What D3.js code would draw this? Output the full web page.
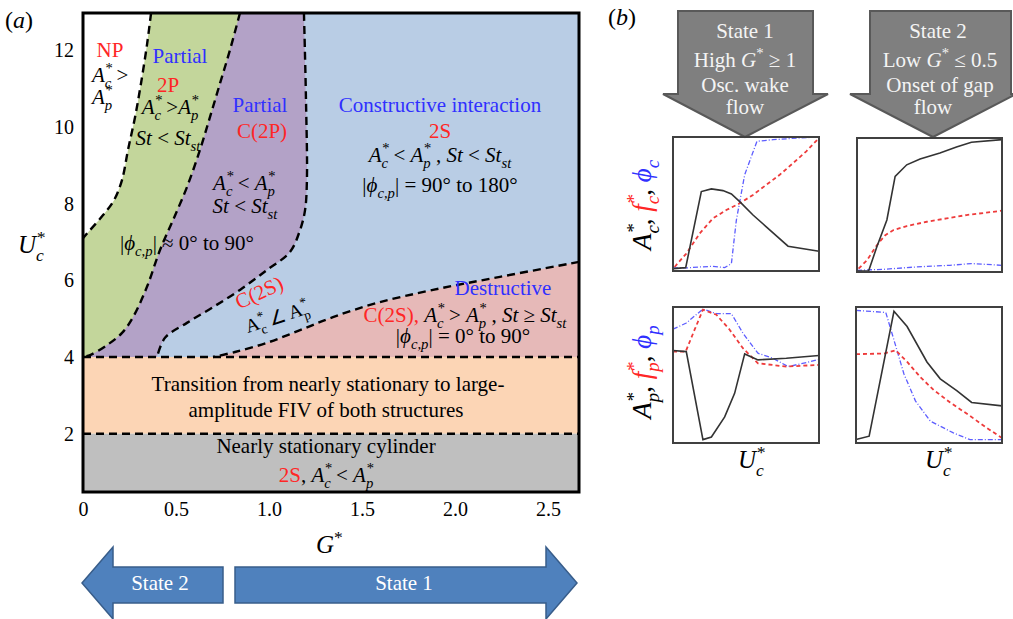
<!DOCTYPE html>
<html>
<head>
<meta charset="utf-8">
<script src="https://cdn.jsdelivr.net/npm/d3@7"></script>
<style>
  body { margin: 0; background: #fff; }
  svg { display: block; }
</style>
</head>
<body>
<div id="chart"></div>
<script>
// ---- data (panel a): regime boundaries as [G*, U*c] ----
var gTicks = [0, 0.5, 1.0, 1.5, 2.0, 2.5];
var uTicks = [2, 4, 6, 8, 10, 12];
var gDomain = [0, 2.667];
var uDomain = [0.48, 12.97];

var bndNP = [[0.366,12.97],[0.344,12.14],[0.312,11.14],[0.280,10.26],[0.242,9.40],[0.210,8.62],[0.167,8.09],[0.108,7.70],[0.038,7.31],[0,7.10]];
var bnd2P = [[0.844,12.97],[0.790,12.0],[0.737,11.14],[0.683,10.26],[0.629,9.40],[0.559,8.43],[0.484,7.57],[0.414,6.79],[0.344,5.83],[0.269,5.04],[0.210,4.63],[0.129,4.31],[0.038,4.05],[0,4.0]];
var bndC2P = [[1.188,12.97],[1.199,10.70],[1.204,8.62],[1.194,7.83],[1.167,7.31],[1.113,6.74],[0.989,6.27],[0.844,5.75],[0.699,5.30],[0.559,4.89],[0.441,4.50],[0.398,4.0]];
var bndDes = [[2.667,6.48],[2.242,6.09],[1.882,5.75],[1.581,5.41],[1.344,5.04],[1.167,4.70],[0.989,4.37],[0.817,4.13],[0.699,4.0]];
var uTransition = 4, uStationary = 2;

// ---- data (panel b): normalised responses [U*c, value] ----
var s1Amp  = [[0,0.018],[0.087,0.025],[0.194,0.593],[0.263,0.613],[0.342,0.6],[0.4,0.575],[0.457,0.518],[0.548,0.418],[0.639,0.33],[0.788,0.185],[1.0,0.148]];
var s1Freq = [[0.011,0.03],[0.091,0.13],[0.183,0.28],[0.274,0.393],[0.365,0.455],[0.457,0.505],[0.548,0.568],[0.639,0.643],[0.731,0.718],[0.822,0.805],[0.913,0.893],[0.993,0.985]];
var s1Phi  = [[0,0.023],[0.091,0.023],[0.183,0.03],[0.274,0.035],[0.354,0.025],[0.4,0.055],[0.434,0.38],[0.491,0.718],[0.575,0.968],[0.685,0.98],[0.868,0.993],[1.0,1.0]];
var s2Amp  = [[0,0.008],[0.08,0.008],[0.137,0.188],[0.206,0.388],[0.263,0.713],[0.343,0.8],[0.435,0.843],[0.572,0.888],[0.686,0.933],[0.789,0.968],[1.0,0.988]];
var s2Freq = [[0.011,0.025],[0.069,0.088],[0.137,0.2],[0.195,0.275],[0.252,0.313],[0.343,0.343],[0.481,0.375],[0.618,0.4],[0.755,0.425],[0.892,0.443],[1.0,0.458]];
var s2Phi  = [[0,0.0125],[0.183,0.02],[0.412,0.038],[0.641,0.05],[0.789,0.063],[1.0,0.05]];
var p1Amp  = [[0,0.68],[0.091,0.672],[0.205,0.025],[0.263,0.044],[0.354,0.192],[0.422,0.365],[0.491,0.655],[0.582,0.611],[0.776,0.623],[1.0,0.643]];
var p1Freq = [[0,0.672],[0.087,0.672],[0.148,0.833],[0.205,0.98],[0.297,0.943],[0.388,0.833],[0.479,0.697],[0.582,0.586],[0.776,0.562],[1.0,0.574]];
var p1Phi  = [[0,0.837],[0.091,0.882],[0.205,0.985],[0.297,0.951],[0.400,0.951],[0.479,0.808],[0.582,0.66],[0.685,0.623],[0.788,0.562],[0.913,0.591],[1.0,0.616]];
var p2Amp  = [[0,0.025],[0.09,0.05],[0.26,0.968],[0.35,0.856],[0.486,0.596],[0.577,0.472],[0.69,0.385],[0.792,0.298],[1.0,0.273]];
var p2Freq = [[0,0.653],[0.192,0.658],[0.271,0.682],[0.351,0.596],[0.441,0.484],[0.532,0.39],[0.645,0.298],[0.781,0.199],[0.894,0.112],[1.0,0.037]];
var p2Phi  = [[0,0.975],[0.204,0.96],[0.26,0.757],[0.328,0.509],[0.407,0.31],[0.509,0.161],[0.667,0.074],[0.781,0.025],[1.0,0.025]];

var SERIF = "'Liberation Serif','Times New Roman',serif";
var RED = "#ff2626", BLUE = "#3030ff";

var svg = d3.select("#chart").append("svg")
    .attr("width", 1013).attr("height", 619);

// text with $italic$, ^{sup} and _{sub} (sub right after sup is stacked)
function rich(parent, px, py, parts, o) {
  o = o || {};
  var fs = o.size || 21;
  var t = parent.append("text")
      .attr("x", px).attr("y", py)
      .attr("text-anchor", o.anchor || "middle")
      .style("font-family", SERIF)
      .style("font-size", fs + "px");
  if (o.rotate) t.attr("transform", "rotate(" + o.rotate + "," + px + "," + py + ")");
  var off = 0, lastSup = null;
  parts.forEach(function(p) {
    var src = p[0], col = p[1] || "#000", it = false, i = 0, buf = "";
    function flush() {
      if (!buf) return;
      var s = t.append("tspan").text(buf).attr("fill", col)
          .style("font-style", it ? "italic" : "normal");
      if (off !== 0) { s.attr("dy", -off); off = 0; }
      buf = ""; lastSup = null;
    }
    while (i < src.length) {
      var c = src[i];
      if (c === "$") { flush(); it = !it; i++; continue; }
      if ((c === "^" || c === "_") && src[i+1] === "{") {
        flush();
        var j = src.indexOf("}", i);
        var txt = src.slice(i+2, j);
        var target = c === "^" ? -0.42*fs : 0.3*fs;
        var s = t.append("tspan").text(txt).attr("fill", col)
            .style("font-style", it ? "italic" : "normal")
            .style("font-size", (0.7*fs) + "px")
            .attr("dy", target - off);
        if (c === "_" && lastSup) { s.attr("dx", -lastSup.node().getComputedTextLength()); lastSup = null; }
        else if (c === "^") lastSup = s; else lastSup = null;
        off = target;
        i = j + 1; continue;
      }
      buf += c; i++;
    }
    flush();
  });
  return t;
}

// ================= panel (a) =================
var x = d3.scaleLinear().domain(gDomain).range([83, 579]);
var y = d3.scaleLinear().domain(uDomain).range([492, 13]);
var curve = d3.line().x(function(d){return x(d[0]);}).y(function(d){return y(d[1]);})
    .curve(d3.curveCatmullRom.alpha(0.5));

var a = svg.append("g");
var xL = x(gDomain[0]), xR = x(gDomain[1]), yT = y(uDomain[1]), yB = y(uDomain[0]);

// regions
a.append("rect").attr("x", xL).attr("y", yT).attr("width", xR-xL).attr("height", y(uTransition)-yT).attr("fill", "#b9cde5");
a.append("path").attr("d", curve(bndC2P) + "L" + xL + "," + y(uTransition) + "L" + xL + "," + yT + "Z").attr("fill", "#b3a2c7");
a.append("path").attr("d", curve(bnd2P) + "L" + xL + "," + yT + "Z").attr("fill", "#c3d69b");
a.append("path").attr("d", curve(bndNP) + "L" + xL + "," + yT + "Z").attr("fill", "#ffffff");
a.append("path").attr("d", curve(bndDes) + "L" + xR + "," + y(uTransition) + "Z").attr("fill", "#e6b9b8");
a.append("rect").attr("x", xL).attr("y", y(uTransition)).attr("width", xR-xL).attr("height", y(uStationary)-y(uTransition)).attr("fill", "#fcd5b5");
a.append("rect").attr("x", xL).attr("y", y(uStationary)).attr("width", xR-xL).attr("height", yB-y(uStationary)).attr("fill", "#bfbfbf");

// dashed boundaries
[bndNP, bnd2P, bndC2P, bndDes].forEach(function(b) {
  a.append("path").attr("d", curve(b)).attr("fill", "none")
    .attr("stroke", "#000").attr("stroke-width", 2.4).attr("stroke-dasharray", "8,5");
});
[uTransition, uStationary].forEach(function(u) {
  a.append("line").attr("x1", xL).attr("x2", xR).attr("y1", y(u)).attr("y2", y(u))
    .attr("stroke", "#000").attr("stroke-width", 2.4).attr("stroke-dasharray", "8,5");
});

// axes
var fmt = function(d){ return d === 0 ? "0" : d3.format(".1f")(d); };
var xAxis = a.append("g").attr("transform", "translate(0," + yB + ")")
    .call(d3.axisBottom(x).tickValues(gTicks).tickFormat(fmt).tickSize(0).tickPadding(10));
var yAxis = a.append("g").attr("transform", "translate(" + xL + ",0)")
    .call(d3.axisLeft(y).tickValues(uTicks).tickSize(0).tickPadding(9));
[xAxis, yAxis].forEach(function(ax) {
  ax.attr("font-family", SERIF);
  ax.select(".domain").remove();
  ax.selectAll("text").style("font-family", SERIF).style("font-size", "20px").attr("fill", "#000");
});

a.append("rect").attr("x", xL).attr("y", yT).attr("width", xR-xL).attr("height", yB-yT)
  .attr("fill", "none").attr("stroke", "#000").attr("stroke-width", 3);

// labels
rich(a, 5, 28, [["($a$)"]], {size: 24, anchor: "start"});
rich(a, 18, 253, [["$U^{*}_{c}$"]], {size: 25, anchor: "start"});
rich(a, 316, 553, [["$G$^{*}"]], {size: 25, anchor: "start"});

// region annotations
rich(a, 110, 57, [["NP", RED]]);
rich(a, 92, 82, [["$A^{*}_{c}$ >"]], {anchor: "start"});
rich(a, 92, 104, [["$A^{*}_{p}$"]], {anchor: "start"});
rich(a, 180, 63, [["Partial", BLUE]]);
rich(a, 168, 92, [["2P", RED]]);
rich(a, 170, 114, [["$A^{*}_{c}$ >$A^{*}_{p}$"]]);
rich(a, 168, 145, [["$St$ < $St_{st}$"]]);
rich(a, 260, 112, [["Partial", BLUE]]);
rich(a, 262, 138, [["C(2P)", RED]]);
rich(a, 244, 190, [["$A^{*}_{c}$ < $A^{*}_{p}$"]]);
rich(a, 245, 213, [["$St$ < $St_{st}$"]]);
rich(a, 187, 250, [["|$ϕ_{c,p}$| ≈ 0° to 90°"]]);

rich(a, 440, 112, [["Constructive interaction", BLUE]]);
rich(a, 440, 138, [["2S", RED]]);
rich(a, 440, 162, [["$A^{*}_{c}$ < $A^{*}_{p}$ , $St$ < $St_{st}$"]]);
rich(a, 440, 192, [["|$ϕ_{c,p}$| = 90° to 180°"]]);

rich(a, 262, 299, [["C(2S)", RED]], {rotate: -25});
rich(a, 279, 323, [["A^{*}_{c} ∠ A^{*}_{p}"]], {rotate: -18, size: 19});
rich(a, 503, 295, [["Destructive", BLUE]]);
rich(a, 465, 322, [["C(2S), ", RED], ["$A^{*}_{c}$ > $A^{*}_{p}$ , $St$ ≥ $St_{st}$"]]);
rich(a, 463, 343, [["|$ϕ_{c,p}$| = 0° to 90°"]]);

rich(a, 328, 391, [["Transition from nearly stationary to large-"]]);
rich(a, 326, 417, [["amplitude FIV of both structures"]]);
rich(a, 326, 453, [["Nearly stationary cylinder"]]);
rich(a, 326, 482, [["2S", RED], [", $A^{*}_{c}$ < $A^{*}_{p}$"]]);

// state arrows
var arrowLine = d3.line();
a.append("path").attr("d", arrowLine([[82,583],[113,547],[113,567],[223,567],[223,603],[113,603],[113,619]]) + "Z")
  .attr("fill", "#4f81bd").attr("stroke", "#385d8a").attr("stroke-width", 1.5);
a.append("path").attr("d", arrowLine([[235,567],[546,567],[546,547],[577,583],[546,619],[546,603],[235,603]]) + "Z")
  .attr("fill", "#4f81bd").attr("stroke", "#385d8a").attr("stroke-width", 1.5);
rich(a, 160, 590, [["State 2", "#fff"]]);
rich(a, 404, 590, [["State 1", "#fff"]]);

// ================= panel (b) =================
var b = svg.append("g");
rich(b, 608, 25, [["($b$)"]], {size: 24, anchor: "start"});

b.append("path").attr("d", arrowLine([[678,11],[813,11],[813,94],[828,94],[745,137],[663,94],[678,94]]) + "Z")
  .attr("fill", "#7f7f7f").attr("stroke", "#595959").attr("stroke-width", 2);
b.append("path").attr("d", arrowLine([[870,11],[1011,11],[1011,94],[1016,94],[933,137],[850,94],[870,94]]) + "Z")
  .attr("fill", "#7f7f7f").attr("stroke", "#595959").attr("stroke-width", 2);
var W = "#f4f4f4";
rich(b, 745, 38, [["State 1", W]]);
rich(b, 745, 67, [["High $G$^{*} ≥ 1", W]]);
rich(b, 745, 92, [["Osc. wake", W]]);
rich(b, 745, 114, [["flow", W]]);
rich(b, 938, 38, [["State 2", W]]);
rich(b, 940, 67, [["Low $G$^{*} ≤ 0.5", W]]);
rich(b, 940, 92, [["Onset of gap", W]]);
rich(b, 933, 114, [["flow", W]]);

var panels = [
  {x0: 673, x1: 819, y0: 137, y1: 271, amp: s1Amp, freq: s1Freq, phi: s1Phi},
  {x0: 857, x1: 1002, y0: 138, y1: 272, amp: s2Amp, freq: s2Freq, phi: s2Phi},
  {x0: 673, x1: 819, y0: 307, y1: 443, amp: p1Amp, freq: p1Freq, phi: p1Phi},
  {x0: 856, x1: 1002, y0: 307, y1: 443, amp: p2Amp, freq: p2Freq, phi: p2Phi}
];
panels.forEach(function(p) {
  var sx = d3.scaleLinear().domain([0, 1]).range([p.x0, p.x1]);
  var sy = d3.scaleLinear().domain([0, 1]).range([p.y1, p.y0]);
  var ln = d3.line().x(function(d){return sx(d[0]);}).y(function(d){return sy(d[1]);});
  var g = b.append("g");
  g.append("path").attr("d", ln(p.phi)).attr("fill", "none").attr("stroke", "#5d5dff")
    .attr("stroke-width", 1.3).attr("stroke-dasharray", "5,2,1,2");
  g.append("path").attr("d", ln(p.freq)).attr("fill", "none").attr("stroke", "#ee3b3b")
    .attr("stroke-width", 1.8).attr("stroke-dasharray", "4,3");
  g.append("path").attr("d", ln(p.amp)).attr("fill", "none").attr("stroke", "#333")
    .attr("stroke-width", 1.6);
  g.append("rect").attr("x", p.x0).attr("y", p.y0).attr("width", p.x1-p.x0).attr("height", p.y1-p.y0)
    .attr("fill", "none").attr("stroke", "#404040").attr("stroke-width", 2);
});

rich(b, 651, 205, [["$A^{*}_{c}$,  "], ["$f^{*}_{c}$", RED], [",  "], ["$ϕ_{c}$", BLUE]], {size: 27, rotate: -90});
rich(b, 651, 372, [["$A^{*}_{p}$,  "], ["$f^{*}_{p}$", RED], [",  "], ["$ϕ_{p}$", BLUE]], {size: 27, rotate: -90});
rich(b, 738, 468, [["$U^{*}_{c}$"]], {size: 25, anchor: "start"});
rich(b, 925, 468, [["$U^{*}_{c}$"]], {size: 25, anchor: "start"});
</script>
</body>
</html>
